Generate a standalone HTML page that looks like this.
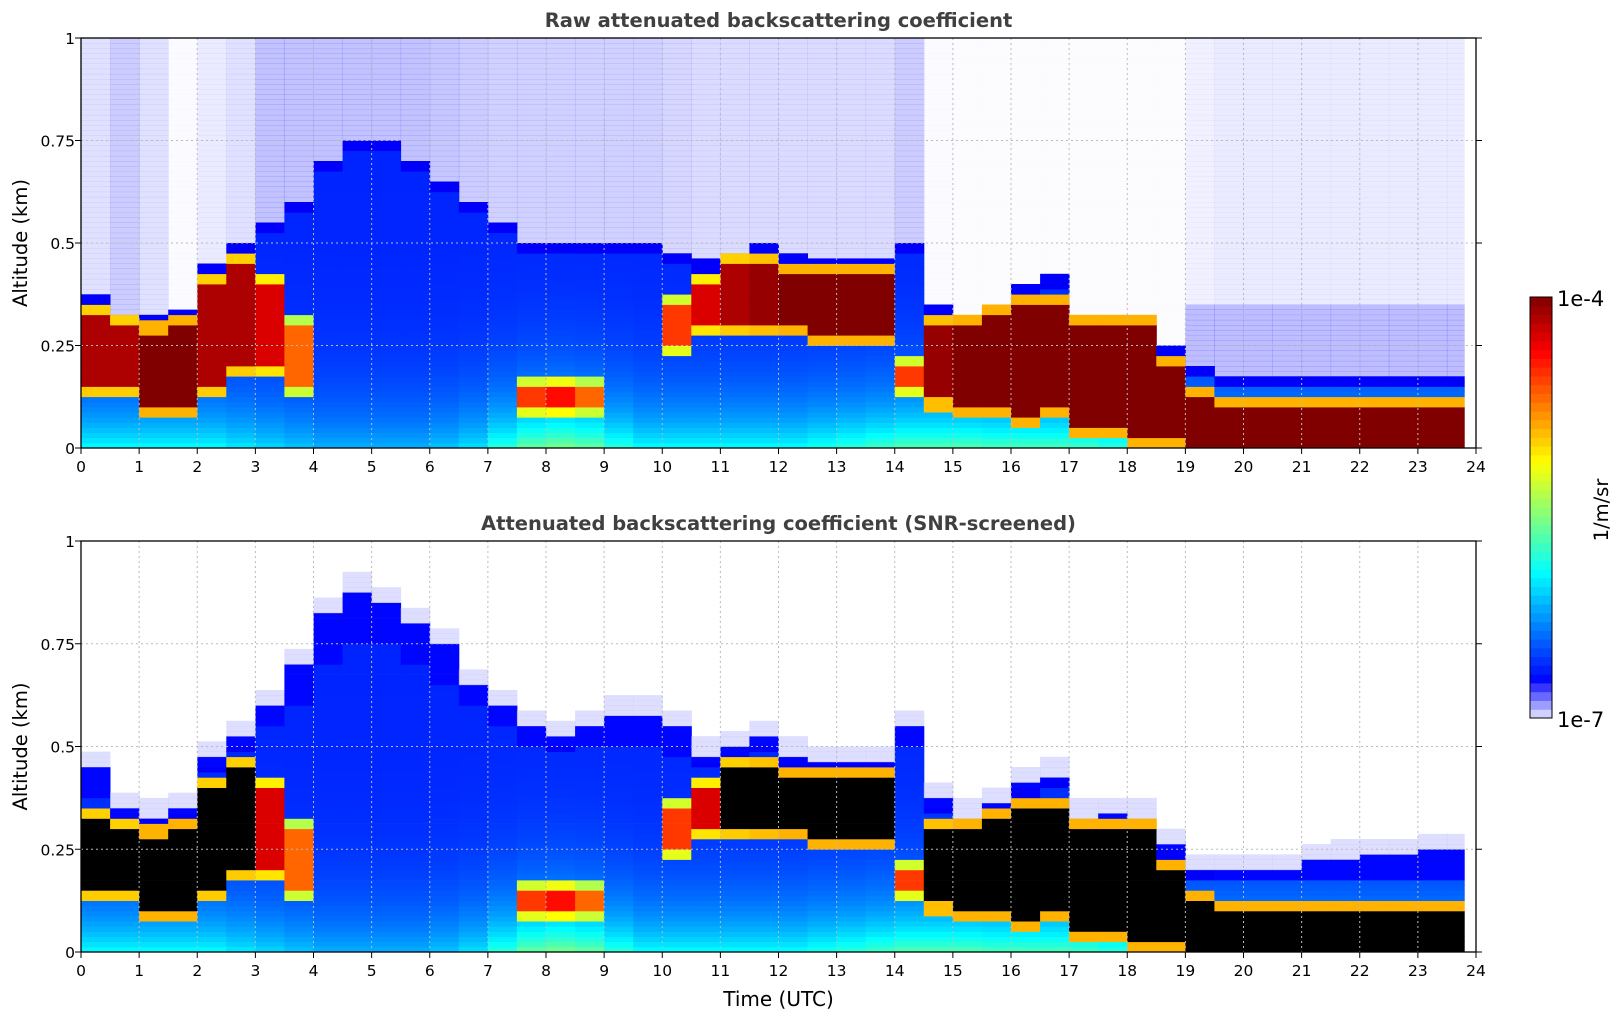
<!DOCTYPE html>
<html><head><meta charset="utf-8"><style>
body{margin:0;background:#fff;}
svg{display:block;font-family:"DejaVu Sans","Liberation Sans",sans-serif;}
</style></head><body>
<svg id="fig" width="1621" height="1020" viewBox="0 0 1621 1020" xmlns="http://www.w3.org/2000/svg">
<g id="raw"></g>
<g id="snr"></g>
<g id="cbar"></g>
</svg>
<script>
// half-hour bins starting at 0h
const times=[0,0.5,1,1.5,2,2.5,3,3.5,4,4.5,5,5.5,6,6.5,7,7.5,8,8.5,9,9.5,10,10.5,11,11.5,12,12.5,13,13.5,14,14.5,15,15.5,16,16.5,17,17.5,18,18.5,19,19.5,20,20.5,21,21.5,22,22.5,23,23.5];
const sigTop=[0.38,0.33,0.33,0.34,0.45,0.5,0.55,0.6,0.7,0.75,0.75,0.7,0.65,0.6,0.55,0.5,0.5,0.5,0.5,0.5,0.48,0.46,0.47,0.5,0.47,0.46,0.46,0.46,0.5,0.35,0.33,0.35,0.4,0.42,0.33,0.33,0.32,0.25,0.2,0.18,0.18,0.18,0.18,0.18,0.18,0.18,0.18,0.18];
const snrTop=[0.45,0.35,0.33,0.35,0.47,0.52,0.6,0.7,0.82,0.88,0.85,0.8,0.75,0.65,0.6,0.55,0.52,0.55,0.58,0.58,0.55,0.48,0.5,0.52,0.48,0.46,0.46,0.46,0.55,0.37,0.33,0.36,0.41,0.43,0.33,0.34,0.33,0.26,0.2,0.2,0.2,0.2,0.22,0.23,0.24,0.24,0.25,0.25];
const cloudBase=[0.15,0.15,0.1,0.1,0.15,0.2,0.2,0.15,0,0,0,0,0,0,0,0.1,0.1,0.1,0,0,0.25,0.3,0.3,0.3,0.3,0.28,0.28,0.28,0.15,0.12,0.1,0.1,0.08,0.1,0.05,0.05,0.02,0.02,0,0,0,0,0,0,0,0,0,0];
const cloudTopV=[0.32,0.3,0.28,0.3,0.4,0.45,0.4,0.3,0,0,0,0,0,0,0,0.15,0.15,0.15,0,0,0.35,0.4,0.45,0.45,0.42,0.42,0.42,0.42,0.2,0.3,0.3,0.32,0.35,0.35,0.3,0.3,0.3,0.2,0.12,0.1,0.1,0.1,0.1,0.1,0.1,0.1,0.1,0.1];
const cloudI=[0.9,0.9,1,1,0.9,0.9,0.8,0.5,0,0,0,0,0,0,0,0.6,0.7,0.5,0,0,0.6,0.8,0.9,0.95,1,1,1,1,0.6,0.95,1,1,1,1,1,1,1,1,1,1,1,1,1,1,1,1,1,1];
const groundVal=[0.38,0.38,0.38,0.38,0.38,0.36,0.34,0.32,0.3,0.3,0.3,0.3,0.32,0.35,0.42,0.48,0.5,0.48,0.42,0.38,0.38,0.38,0.38,0.38,0.38,0.4,0.42,0.44,0.46,0.46,0.46,0.45,0.45,0.45,0.44,0.42,0.4,0.38,0.36,0.36,0.36,0.36,0.36,0.36,0.36,0.36,0.36,0.36];
const noise=[0.3,0.5,0.3,0.05,0.2,0.3,0.6,0.6,0.6,0.6,0.6,0.6,0.55,0.5,0.45,0.45,0.45,0.45,0.45,0.45,0.4,0.35,0.35,0.35,0.35,0.35,0.35,0.35,0.5,0.05,0.03,0.03,0.03,0.03,0.03,0.03,0.03,0.03,0.15,0.2,0.2,0.2,0.2,0.2,0.2,0.2,0.2,0.2];
const xTicks=[0,1,2,3,4,5,6,7,8,9,10,11,12,13,14,15,16,17,18,19,20,21,22,23,24];
const yTicks=[0,0.25,0.5,0.75,1];
const yTickLabels=["0","0.25","0.5","0.75","1"];
const dataEnd=23.8;

const NS="http://www.w3.org/2000/svg";
function mk(tag,attrs,parent){const e=document.createElementNS(NS,tag);for(const k in attrs)e.setAttribute(k,attrs[k]);parent.appendChild(e);return e;}
function cl(v){return Math.max(0,Math.min(1,v));}
function jet(v){const r=cl(1.5-Math.abs(4*v-3)),g=cl(1.5-Math.abs(4*v-2)),b=cl(1.5-Math.abs(4*v-1));return `rgb(${Math.round(r*255)},${Math.round(g*255)},${Math.round(b*255)})`;}
const X0=81,X1=1476,CX=(X0+X1)/2;
function xs(t){return X0+(t/24)*(X1-X0);}
function makeY(y0,y1){return z=>y1-(z)*(y1-y0);}
const NR=80;

function panel(g,y0,y1,title,screened){
  const ys=makeY(y0,y1);
  const cells=mk('g',{},g);
  
  
  for(let i=0;i<times.length;i++){
    const ta=times[i],tb=Math.min(times[i]+0.5,dataEnd);
    const xa=xs(ta),xb=xs(tb);
    const top=screened?snrTop[i]:sigTop[i];
    for(let r=0;r<NR;r++){
      const z=(r+0.5)/NR;
      let fill=null,op=1;
      if(z>top){
        if(screened){ if(z<top+0.04){fill='rgb(200,200,255)';op=0.6;} }
        else{ let d=noise[i]; if(i>=38&&z<0.35) d=0.65; if(d>0.02){fill='rgb(0,0,255)';op=d*0.4;} }
      } else {
        let v=0.16+(groundVal[i]-0.16)*Math.exp(-z/0.12);
        if(screened && z>sigTop[i]) v=0.13;
        else if(z>top-0.03) v=0.12;
        const b=cloudBase[i],t=cloudTopV[i],I=cloudI[i];
        if(I>0&&t>0){
          if(z>=b&&z<=t){ v=0.55+0.45*I; }
          else if(z>t&&z<t+0.03){ v=Math.max(v,0.4+0.3*I); }
          else if(z<b&&z>b-0.03){ v=Math.max(v,0.45+0.25*I); }
        }
        fill=(screened&&v>0.92)?'#000':jet(v);
      }
      if(fill){
        const c=mk('rect',{x:xa.toFixed(1),y:ys((r+1)/NR).toFixed(1),width:(xb-xa+0.4).toFixed(1),height:((y1-y0)/NR+0.4).toFixed(1),fill:fill},cells);
        if(op<1)c.setAttribute('fill-opacity',op.toFixed(2));
        
        
      }
    }
  }
  const grid=mk('g',{stroke:'#bbb','stroke-dasharray':'2,3','stroke-width':1},g);
  
  
  xTicks.forEach(t=>{if(t>0&&t<24)mk('line',{x1:xs(t),x2:xs(t),y1:y0,y2:y1},grid);});
  yTicks.forEach(v=>{if(v>0&&v<1)mk('line',{x1:X0,x2:X1,y1:ys(v),y2:ys(v)},grid);});
  const fr=mk('rect',{x:X0,y:y0,width:X1-X0,height:y1-y0,fill:'none',stroke:'#000','stroke-width':1.3},g);
  
  
  xTicks.forEach(t=>{
    mk('line',{x1:xs(t),x2:xs(t),y1:y1,y2:y1+6,stroke:'#000'},g);
    const tx=mk('text',{x:xs(t),y:y1+24,'font-size':15.5,'text-anchor':'middle'},g);tx.textContent=t;
    
    
  });
  yTicks.forEach((v,k)=>{
    mk('line',{x1:X0-6,x2:X0,y1:ys(v),y2:ys(v),stroke:'#000'},g);
    mk('line',{x1:X1,x2:X1+6,y1:ys(v),y2:ys(v),stroke:'#000'},g);
    const tx=mk('text',{x:X0-6,y:ys(v)+6,'font-size':15.5,'text-anchor':'end'},g);tx.textContent=yTickLabels[k];
    
    
  });
  const tt=mk('text',{x:CX,y:y0-11,'font-size':19.5,'font-weight':'bold','fill':'#404040','text-anchor':'middle'},g);tt.textContent=title;
  
  
  const yl=mk('text',{x:0,y:0,'font-size':19.5,'text-anchor':'middle',transform:`translate(27,${(y0+y1)/2}) rotate(-90)`},g);yl.textContent='Altitude (km)';
  
  
}
panel(document.getElementById('raw'),38,448,'Raw attenuated backscattering coefficient',false);
panel(document.getElementById('snr'),541,952,'Attenuated backscattering coefficient (SNR-screened)',true);
const fig=document.getElementById('fig');
const xl=mk('text',{x:CX,y:1006,'font-size':20,'text-anchor':'middle'},fig);xl.textContent='Time (UTC)';


const cb=document.getElementById('cbar');
const CB0=297,CB1=718,NC=48,CBX=1530,CBW=22;
for(let k=0;k<NC;k++){
  const f=(k+0.5)/NC;let col;
  if(f<0.08){const s=f/0.08;const c=Math.round(235-s*200);col=`rgb(${c},${c},255)`;}
  else col=jet(0.12+(f-0.08)/0.92*0.88);
  const r=mk('rect',{x:CBX,y:(CB1-(k+1)*(CB1-CB0)/NC).toFixed(1),width:CBW,height:((CB1-CB0)/NC+0.5).toFixed(1),fill:col},cb);
  
  
}
mk('rect',{x:CBX,y:CB0,width:CBW,height:CB1-CB0,fill:'none',stroke:'#000'},cb);
const l1=mk('text',{x:1557,y:CB0+9,'font-size':21},cb);l1.textContent='1e-4';


const l2=mk('text',{x:1557,y:CB1+9,'font-size':21},cb);l2.textContent='1e-7';


const l3=mk('text',{x:0,y:0,'font-size':19.5,'text-anchor':'middle',transform:'translate(1608,510) rotate(-90)'},cb);l3.textContent='1/m/sr';


</script>
</body></html>
